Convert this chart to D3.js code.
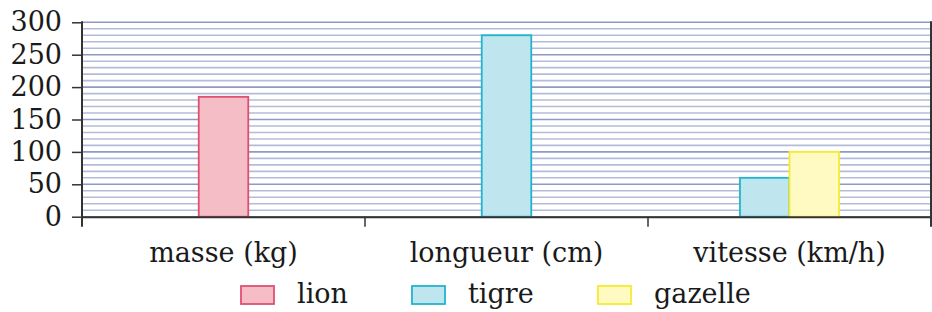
<!DOCTYPE html>
<html><head><meta charset="utf-8">
<script src="https://cdn.jsdelivr.net/npm/d3@7"></script>
<style>body{margin:0;background:#fff}svg{display:block}</style>
</head><body>
<svg id="c" width="932" height="312"></svg>
<script>
const categories = ["masse (kg)", "longueur (cm)", "vitesse (km/h)"];
const seriesNames = ["lion", "tigre", "gazelle"];
const lion = [185, null, null];
const tigre = [null, 280, 60];
const gazelle = [null, null, 100];
const yTicks = [0, 50, 100, 150, 200, 250, 300];
const gridStep = 10;

const fills = {lion: "#f5bec7", tigre: "#bfe5ef", gazelle: "#fff9c2"};
const strokes = {lion: "#df4f70", tigre: "#22b4cf", gazelle: "#f5ec30"};
const values = {lion, tigre, gazelle};

const font = "'DejaVu Serif', serif";
const svg = d3.select("#c");
const L = 82, R = 931, T = 22.3, B = 216.7;
const x = d3.scaleBand().domain(categories).range([L, R]).padding(0);
const y = d3.scaleLinear().domain([0, 300]).range([B, T]);
const barW = x.bandwidth() * 0.175;

// grid
const grid = d3.range(0, 301, gridStep);
svg.append("g").selectAll("line").data(grid).join("line")
  .attr("x1", L).attr("x2", R)
  .attr("y1", d => y(d)).attr("y2", d => y(d))
  .attr("stroke", d => d % 50 === 0 ? "#8f9ac4" : "#b4bbd9")
  .attr("stroke-width", 1.6);

// bars
categories.forEach((c, ci) => {
  const present = seriesNames.filter(s => values[s][ci] != null);
  const cx = x(c) + x.bandwidth() / 2;
  const inner = d3.scaleBand().domain(present)
    .range([cx - present.length * barW / 2, cx + present.length * barW / 2]);
  svg.append("g").selectAll("rect").data(present).join("rect")
    .attr("x", s => inner(s)).attr("width", inner.bandwidth())
    .attr("y", s => y(values[s][ci])).attr("height", s => y(0) - y(values[s][ci]))
    .attr("fill", s => fills[s]).attr("stroke", s => strokes[s]).attr("stroke-width", 1.8);
});

// y axis
const ya = svg.append("g").attr("transform", `translate(${L},0)`)
  .call(d3.axisLeft(y).tickValues(yTicks).tickSize(10).tickPadding(10));
ya.select(".domain").remove();
ya.selectAll(".tick line").attr("stroke", "#333").attr("stroke-width", 1.5);
ya.selectAll(".tick text").attr("font-family", font).attr("font-size", 27).attr("fill", "#1a1a1a");
svg.append("line").attr("x1", L).attr("x2", L).attr("y1", T - 1).attr("y2", B + 10)
  .attr("stroke", "#333").attr("stroke-width", 2);
svg.append("line").attr("x1", R).attr("x2", R).attr("y1", T - 1).attr("y2", B + 10)
  .attr("stroke", "#333").attr("stroke-width", 2);

// x axis
const xa = svg.append("g").attr("transform", `translate(0,${B})`)
  .call(d3.axisBottom(x).tickSize(0).tickPadding(26));
xa.select(".domain").attr("stroke", "#333").attr("stroke-width", 2);
xa.selectAll(".tick text").attr("font-family", font).attr("font-size", 27).attr("fill", "#1a1a1a");
svg.append("g").selectAll("line").data(categories.slice(1)).join("line")
  .attr("x1", d => x(d)).attr("x2", d => x(d)).attr("y1", B).attr("y2", B + 10)
  .attr("stroke", "#333").attr("stroke-width", 1.5);

// legend
const legX = [241, 412, 598];
const lg = svg.append("g").selectAll("g").data(seriesNames).join("g")
  .attr("transform", (d, i) => `translate(${legX[i]},286)`);
lg.append("rect").attr("width", 33).attr("height", 18)
  .attr("fill", d => fills[d]).attr("stroke", d => strokes[d]).attr("stroke-width", 1.8);
lg.append("text").attr("x", 56).attr("y", 17).text(d => d)
  .attr("font-family", font).attr("font-size", 27).attr("fill", "#1a1a1a");
</script>
</body></html>
